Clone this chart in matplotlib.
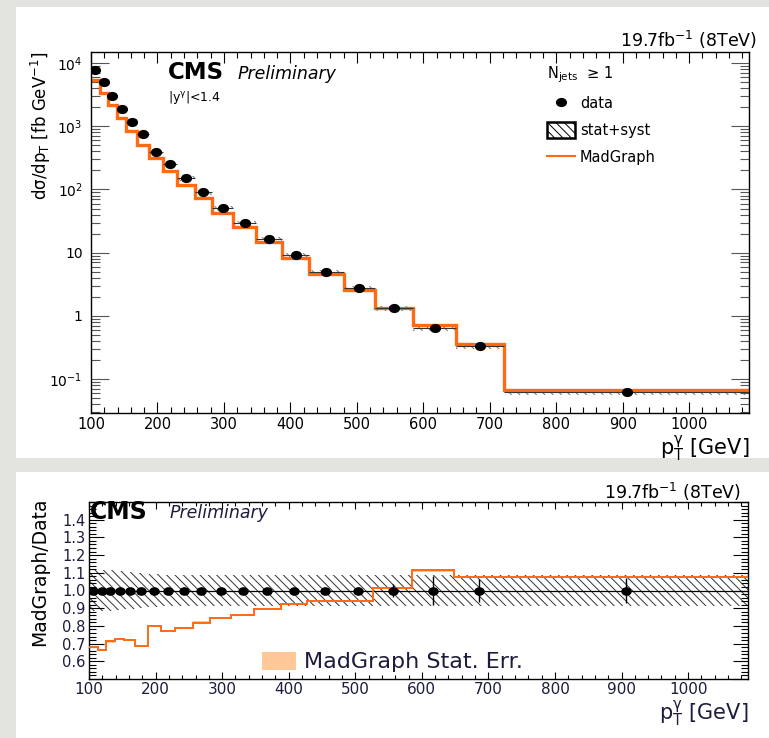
#!/usr/bin/env python3
"""CMS photon+jets pT spectrum with MadGraph comparison and ratio panel."""

import matplotlib

matplotlib.use("Agg")
import matplotlib.pyplot as plt
import matplotlib.ticker as mticker
import numpy as np
from matplotlib.lines import Line2D
from matplotlib.patches import Patch, Rectangle
from matplotlib.path import Path
from matplotlib.transforms import Affine2D

plt.rcParams["font.family"] = ["DejaVu Sans"]
plt.rcParams["mathtext.fontset"] = "dejavusans"
plt.rcParams["mathtext.default"] = "regular"
plt.rcParams["hatch.linewidth"] = 0.7

# ---- data ----
bin_edges = [100, 113, 125, 139, 153, 169, 188, 208, 229, 256, 282,
             314, 348, 388, 428, 480, 527, 585, 649, 722, 1090]
data_xsec = [7830, 5110, 3040, 1870, 1165, 753, 399, 255, 151, 89.7,
             50.8, 29.4, 16.4, 9.03, 4.93, 2.72, 1.33, 0.641, 0.328, 0.0622]
mg_ratio = [0.679, 0.664, 0.712, 0.725, 0.720, 0.684, 0.800, 0.772, 0.787, 0.819,
            0.847, 0.862, 0.894, 0.925, 0.941, 0.941, 1.016, 1.113, 1.075, 1.075]
mg_stat_err = [0.006, 0.006, 0.006, 0.006, 0.006, 0.006, 0.006, 0.006, 0.006, 0.006,
               0.006, 0.006, 0.006, 0.006, 0.006, 0.006, 0.006, 0.006, 0.006, 0.006]
total_rel_err = [0.118, 0.117, 0.115, 0.108, 0.103, 0.097, 0.094, 0.090, 0.088, 0.088,
                 0.088, 0.088, 0.088, 0.088, 0.088, 0.088, 0.088, 0.090, 0.090, 0.090]
stat_rel_err = [0.004, 0.004, 0.004, 0.004, 0.004, 0.005, 0.012, 0.005, 0.005, 0.005,
                0.006, 0.007, 0.008, 0.010, 0.013, 0.018, 0.035, 0.080, 0.065, 0.072]

x_ticks = [100, 200, 300, 400, 500, 600, 700, 800, 900, 1000]
log_tick_labels = {1e4: "$10^{4}$", 1e3: "$10^{3}$", 1e2: "$10^{2}$",
                   10.0: "10", 1.0: "1", 0.1: "$10^{-1}$"}

ORANGE = "#ff6a13"
LIGHT_ORANGE = "#ffc896"
NAVY = "#1c1c3c"
W, H = 769, 738


def px(x, y):
    return (x / W, 1 - y / H)


edges = np.array(bin_edges, dtype=float)
centers = 0.5 * (edges[1:] + edges[:-1])
half_w = 0.5 * np.diff(edges)
data = np.array(data_xsec)
ratio = np.array(mg_ratio)
tot = np.array(total_rel_err)
stat = np.array(stat_rel_err)
mg_xsec = data * ratio

# slightly wide ellipse marker (the screenshot is stretched horizontally)
ellipse = Path.unit_circle().transformed(Affine2D().scale(1.25, 1.0))

fig = plt.figure(figsize=(W / 100, H / 100), dpi=100)
fig.patch.set_facecolor("#e3e3df")
fig.add_artist(Rectangle(px(16, 458), (W - 16) / W, 451 / H, transform=fig.transFigure,
                         facecolor="white", edgecolor="none", zorder=-1))
fig.add_artist(Rectangle(px(16, 738), (W - 16) / W, 266 / H, transform=fig.transFigure,
                         facecolor="white", edgecolor="none", zorder=-1))

# ---------------- top panel ----------------
ax = fig.add_axes([91 / W, 1 - 413 / H, 658 / W, 361 / H])
ax.bar(centers, 2 * tot * data, bottom=data * (1 - tot), width=np.diff(edges),
       fill=False, hatch="\\\\\\\\", edgecolor="#777777", linewidth=0, zorder=1)
ax.stairs(mg_xsec, edges, color=ORANGE, linewidth=2.4, baseline=None, zorder=2)
ax.errorbar(centers, data, xerr=half_w, yerr=data * stat, fmt="none",
            ecolor="#333333", elinewidth=0.8, capsize=0, zorder=3)
ax.plot(centers, data, ls="none", marker=ellipse, ms=7, color="black", zorder=4)

ax.set_yscale("log")
ax.set_xlim(100, 1090)
ax.set_ylim(0.029, 15000)
ax.xaxis.set_major_locator(mticker.FixedLocator(x_ticks))
ax.xaxis.set_minor_locator(mticker.MultipleLocator(20))
ax.yaxis.set_major_locator(mticker.LogLocator(base=10))
ax.yaxis.set_minor_locator(mticker.LogLocator(base=10, subs=np.arange(2, 10)))
ax.yaxis.set_major_formatter(mticker.FuncFormatter(
    lambda v, _p: log_tick_labels.get(round(v, 6), "")))
ax.yaxis.set_minor_formatter(mticker.NullFormatter())
ax.tick_params(axis="x", which="both", direction="in", top=True, labelsize=10.5,
               pad=3, width=0.8)
ax.tick_params(axis="x", which="major", length=8)
ax.tick_params(axis="x", which="minor", length=4)
ax.tick_params(axis="y", which="both", direction="in", right=True, labelsize=10,
               pad=6, width=0.8, color="#555555")
ax.tick_params(axis="y", which="major", length=13)
ax.tick_params(axis="y", which="minor", length=6.5)
for s in ax.spines.values():
    s.set_linewidth(1.0)

ax.set_ylabel("dσ/dp$_{T}$ [fb GeV$^{-1}$]", fontsize=12, ha="center", va="center")
ax.yaxis.set_label_coords(-0.076, 0.795)
ax.set_xlabel("p$_{T}^{\\gamma}$ [GeV]", fontsize=15, ha="right", va="baseline")
ax.xaxis.set_label_coords(1.0, -0.117)

fig.text(*px(168, 79), "CMS", fontsize=16.5, fontweight="bold", va="baseline")
fig.text(*px(238, 79), "Preliminary", fontsize=12.5, fontstyle="italic", va="baseline")
fig.text(*px(168, 97), "|y$^{\\gamma}$|<1.4", fontsize=9, va="center")
fig.text(*px(757, 47), "19.7fb$^{-1}$ (8TeV)", fontsize=12.5, ha="right", va="baseline")

handles = [
    Line2D([], [], ls="none", marker=ellipse, ms=7, color="black"),
    Patch(facecolor="white", edgecolor="black", hatch="\\\\\\\\", linewidth=1.8),
    Line2D([], [], color=ORANGE, linewidth=1.5),
]
leg = ax.legend(handles, ["data", "stat+syst", "MadGraph"], title="N$_{jets}$  ≥ 1",
                loc="upper left", bbox_to_anchor=px(547, 64), bbox_transform=fig.transFigure,
                frameon=False, fontsize=10.5, title_fontsize=10.5, handlelength=1.9,
                handleheight=1.3, handletextpad=0.35, labelspacing=0.75,
                borderpad=0, borderaxespad=0)
leg._legend_box.align = "left"

# ---------------- ratio panel ----------------
rx = fig.add_axes([89 / W, 1 - 679 / H, 659 / W, 177 / H])
rx.bar(centers, 2 * tot, bottom=1 - tot, width=np.diff(edges), fill=False,
       hatch="\\\\\\\\", edgecolor="#333333", linewidth=0, zorder=1)
rx.axhline(1.0, color="black", linewidth=0.9, zorder=2)
err = np.array(mg_stat_err)
rx.stairs(ratio + err, edges, baseline=ratio - err, fill=True, color=LIGHT_ORANGE, zorder=2)
rx.stairs(ratio, edges, color=ORANGE, linewidth=1.4, baseline=None, zorder=3)
rx.errorbar(centers, np.ones_like(centers), yerr=stat, fmt="none", ecolor="black",
            elinewidth=1.0, capsize=0, zorder=4)
rx.plot(centers, np.ones_like(centers), ls="none", marker=ellipse, ms=6.5,
        color="black", zorder=5)

rx.set_xlim(100, 1090)
rx.set_ylim(0.5, 1.5)
rx.xaxis.set_major_locator(mticker.FixedLocator(x_ticks))
rx.xaxis.set_minor_locator(mticker.MultipleLocator(20))
rx.yaxis.set_major_locator(mticker.MultipleLocator(0.1))
rx.yaxis.set_minor_locator(mticker.AutoMinorLocator(5))
rx.yaxis.set_major_formatter(mticker.FuncFormatter(
    lambda v, _p: f"{v:.1f}" if 0.55 < v < 1.45 else ""))
rx.tick_params(axis="x", which="both", direction="in", top=True, labelsize=11,
               pad=2, width=0.8, labelcolor=NAVY)
rx.tick_params(axis="x", which="major", length=5)
rx.tick_params(axis="x", which="minor", length=3)
rx.tick_params(axis="y", which="both", direction="in", right=True, labelsize=10.5,
               pad=2.5, width=0.8, labelcolor=NAVY)
rx.tick_params(axis="y", which="major", length=11)
rx.tick_params(axis="y", which="minor", length=5)
for s in rx.spines.values():
    s.set_linewidth(1.0)

rx.set_ylabel("MadGraph/Data", fontsize=13.5, ha="center", va="center")
rx.yaxis.set_label_coords(-0.0744, 0.605)
rx.set_xlabel("p$_{T}^{\\gamma}$ [GeV]", fontsize=15, ha="right", va="baseline", color=NAVY)
rx.xaxis.set_label_coords(1.0, -0.232)

fig.text(*px(90, 512), "CMS", fontsize=17, fontweight="bold", va="center")
fig.text(*px(170, 513), "Preliminary", fontsize=12.5, fontstyle="italic", va="center",
         color=NAVY)
fig.text(*px(741, 499), "19.7fb$^{-1}$ (8TeV)", fontsize=12.5, ha="right", va="baseline")

rx.legend([Patch(facecolor=LIGHT_ORANGE, edgecolor="none")], ["MadGraph Stat. Err."],
          loc="center left", bbox_to_anchor=px(262, 662), bbox_transform=fig.transFigure,
          frameon=False, fontsize=16, labelcolor=NAVY, handlelength=1.55,
          handleheight=0.9, handletextpad=0.35, borderpad=0, borderaxespad=0)

fig.savefig("out.png", dpi=100, facecolor=fig.get_facecolor())
